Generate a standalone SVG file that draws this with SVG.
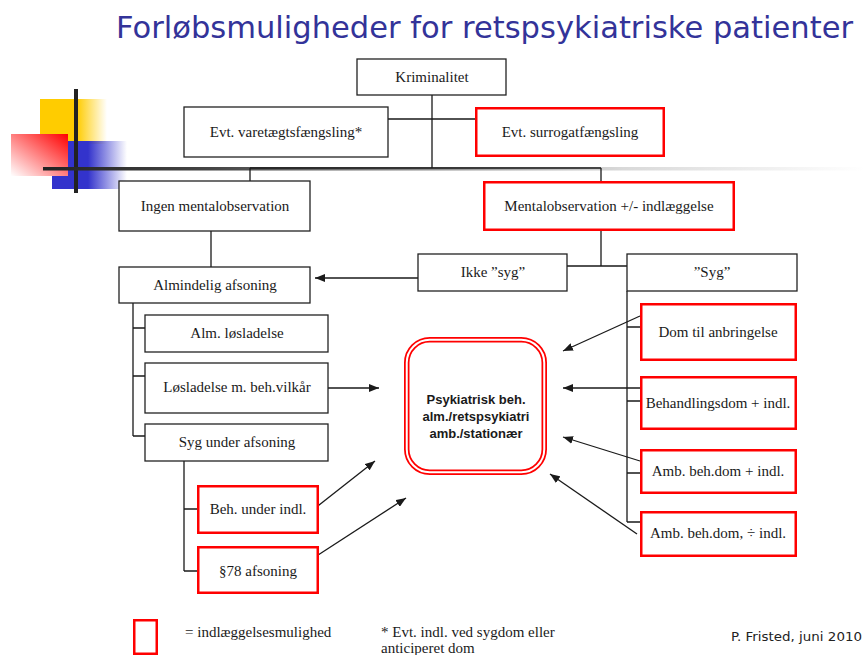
<svg xmlns="http://www.w3.org/2000/svg" width="866" height="655" viewBox="0 0 866 655">
<style>
.box{fill:#fff;stroke:#222;stroke-width:1.3}
.rbox{fill:#fff;stroke:#ff0000;stroke-width:2.5}
.t{font-family:"Liberation Serif","Times New Roman",serif;font-size:15px;fill:#1a1a1a;text-anchor:middle}
.c{fill:none;stroke:#1a1a1a;stroke-width:1.3}
.a{fill:none;stroke:#1a1a1a;stroke-width:1.3;marker-end:url(#ah)}
</style>
<defs>
<marker id="ah" markerUnits="userSpaceOnUse" markerWidth="10" markerHeight="8" refX="10" refY="4" viewBox="0 0 10 8" orient="auto">
<path d="M0,0 L10,4 L0,8 z" fill="#1a1a1a"/>
</marker>
<linearGradient id="gy" x1="0" y1="0" x2="1" y2="0">
<stop offset="0" stop-color="#ffcc00"/>
<stop offset="0.55" stop-color="#ffcc00"/>
<stop offset="1" stop-color="#ffcc00" stop-opacity="0"/>
</linearGradient>
<linearGradient id="gb" x1="0" y1="0" x2="1" y2="0">
<stop offset="0" stop-color="#3333cc"/>
<stop offset="0.48" stop-color="#3333cc"/>
<stop offset="1" stop-color="#3333cc" stop-opacity="0"/>
</linearGradient>
<linearGradient id="gr" x1="1" y1="0" x2="0" y2="1">
<stop offset="0" stop-color="#ff0000"/>
<stop offset="1" stop-color="#ffffff"/>
</linearGradient>
<linearGradient id="gl" x1="0" y1="0" x2="1" y2="0">
<stop offset="0" stop-color="#222"/>
<stop offset="0.2" stop-color="#444"/>
<stop offset="0.45" stop-color="#888"/>
<stop offset="0.7" stop-color="#d8d8d8"/>
<stop offset="1" stop-color="#fff"/>
</linearGradient>
</defs>
<rect width="866" height="655" fill="#fff"/>

<g id="decoration">
<rect x="40" y="99" width="67" height="45" fill="url(#gy)"/>
<rect x="52" y="141" width="75" height="48" fill="url(#gb)"/>
<rect x="11" y="134" width="57" height="42" fill="url(#gr)"/>
<rect x="74" y="89" width="4" height="104" fill="#222"/>
<rect x="43" y="167" width="822" height="3.5" fill="url(#gl)"/>
</g>

<text id="title" x="116" y="38" font-family="Tahoma,'DejaVu Sans',sans-serif" font-size="31" fill="#333399" textLength="737" lengthAdjust="spacingAndGlyphs">Forløbsmuligheder for retspsykiatriske patienter</text>

<g id="connectors">
<path class="c" d="M432 95 V168 M388 119 H475 M250 168 H601 M250 168 V181 M601 168 V181"/>
<path class="c" d="M211 231 V267 M601 231 V266 M567 266 H627"/>
<path class="c" d="M133 303 V436 M133 328 H145 M133 376 H145 M133 436 H145"/>
<path class="c" d="M184 461 V571 M184 509 H197 M184 571 H197"/>
<path class="c" d="M627 291 V522 M627 327 H640 M627 401 H640 M627 473 H640 M627 522 H640"/>
<path class="a" d="M418 278 H315"/>
<path class="a" d="M328 388 H379"/>
<path class="a" d="M314 509 L375 461"/>
<path class="a" d="M315 557 L406 498"/>
<path class="a" d="M640 316 L563 351"/>
<path class="a" d="M640 388 H563"/>
<path class="a" d="M640 461 L563 437"/>
<path class="a" d="M637 534 L550 474"/>
</g>

<g id="kriminalitet"><rect class="box" x="357" y="59" width="149" height="36"/><text class="t" x="432" y="82">Kriminalitet</text></g>
<g id="varetaegt"><rect class="box" x="184" y="107" width="204" height="50"/><text class="t" x="286" y="137">Evt. varetægtsfængsling*</text></g>
<g id="surrogat"><rect class="rbox" x="476.25" y="108.25" width="187.5" height="47.5"/><text class="t" x="570" y="137">Evt. surrogatfængsling</text></g>
<g id="ingen"><rect class="box" x="119" y="181" width="191" height="50"/><text class="t" x="215" y="211">Ingen mentalobservation</text></g>
<g id="mentalobs"><rect class="rbox" x="484.25" y="182.25" width="249.5" height="47.5"/><text class="t" x="609" y="211">Mentalobservation +/- indlæggelse</text></g>
<g id="almindelig"><rect class="box" x="119" y="267" width="191" height="36"/><text class="t" x="215" y="290">Almindelig afsoning</text></g>
<g id="ikkesyg"><rect class="box" x="418" y="254" width="149" height="37"/><text class="t" x="493" y="277">Ikke ”syg”</text></g>
<g id="syg"><rect class="box" x="627" y="254" width="170" height="37"/><text class="t" x="712" y="277">”Syg”</text></g>
<g id="almlosladelse"><rect class="box" x="145" y="315" width="183" height="37"/><text class="t" x="237" y="338">Alm. løsladelse</text></g>
<g id="losladelse"><rect class="box" x="145" y="363" width="183" height="50"/><text class="t" x="237" y="392">Løsladelse m. beh.vilkår</text></g>
<g id="sygunder"><rect class="box" x="145" y="424" width="183" height="37"/><text class="t" x="237" y="447">Syg under afsoning</text></g>
<g id="behunder"><rect class="rbox" x="198.25" y="486.25" width="119.5" height="46.5"/><text class="t" x="258" y="514">Beh. under indl.</text></g>
<g id="p78"><rect class="rbox" x="198.25" y="547.25" width="119.5" height="45.5"/><text class="t" x="258" y="576">§78 afsoning</text></g>
<g id="dom"><rect class="rbox" x="641.25" y="304.25" width="154.5" height="55.5"/><text class="t" x="718" y="337">Dom til anbringelse</text></g>
<g id="behdom"><rect class="rbox" x="641.25" y="377.25" width="154.5" height="51.5"/><text class="t" x="718" y="408">Behandlingsdom + indl.</text></g>
<g id="ambindl"><rect class="rbox" x="641.25" y="450.25" width="154.5" height="42.5"/><text class="t" x="718" y="476">Amb. beh.dom + indl.</text></g>
<g id="ambnot"><rect class="rbox" x="641.25" y="512.25" width="154.5" height="43.5"/><text class="t" x="718" y="538">Amb. beh.dom, ÷ indl.</text></g>

<g id="psykiatrisk">
<rect x="406.75" y="339.75" width="137.5" height="132.5" rx="23" fill="#fff" stroke="#ff0000" stroke-width="5.5"/>
<rect x="406.75" y="339.75" width="137.5" height="132.5" rx="23" fill="none" stroke="#fff" stroke-width="2"/>
<text font-family="'Liberation Sans',Arial,sans-serif" font-size="13" font-weight="bold" fill="#1a1a1a" text-anchor="middle"><tspan x="476" y="404">Psykiatrisk beh.</tspan><tspan x="476" y="421">alm./retspsykiatri</tspan><tspan x="476" y="438">amb./stationær</tspan></text>
</g>

<g id="legend">
<rect class="rbox" x="134.25" y="620.25" width="22.5" height="33.5"/>
<text x="185" y="637" font-family="'Liberation Serif',serif" font-size="15" fill="#1a1a1a">= indlæggelsesmulighed</text>
<text font-family="'Liberation Serif',serif" font-size="15" fill="#1a1a1a"><tspan x="381" y="637">*  Evt. indl. ved sygdom eller</tspan><tspan x="381" y="653">anticiperet dom</tspan></text>
<text x="862" y="641" font-family="Tahoma,'DejaVu Sans',sans-serif" font-size="13" fill="#222" text-anchor="end" textLength="131" lengthAdjust="spacingAndGlyphs">P. Fristed, juni 2010</text>
</g>
</svg>
